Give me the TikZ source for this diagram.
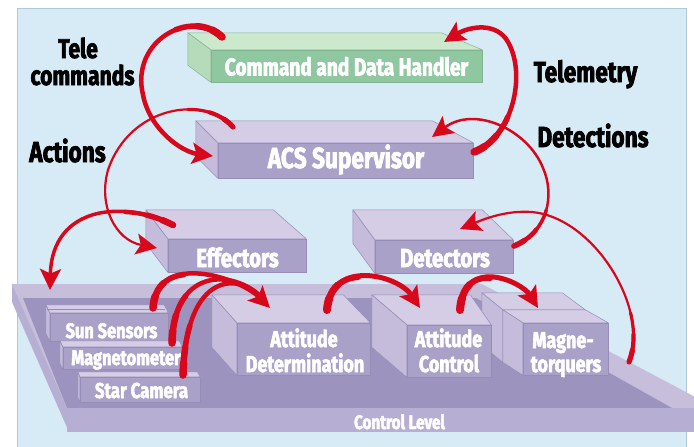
\documentclass[tikz,border=0pt]{standalone}
\usepackage{fontspec}
\newfontfamily\diafont{Fira Sans}[FakeStretch=0.78, BoldFeatures={FakeBold=2.5}]
\usetikzlibrary{arrows.meta,calc}

\definecolor{panelblue}{RGB}{215,235,246}
\definecolor{panelline}{RGB}{175,200,218}
\definecolor{pfront}{RGB}{170,161,201}
\definecolor{ptop}{RGB}{212,205,229}
\definecolor{pside}{RGB}{196,188,218}
\definecolor{pedge}{RGB}{150,141,182}
\definecolor{gfront}{RGB}{143,199,160}
\definecolor{gtop}{RGB}{204,232,205}
\definecolor{gside}{RGB}{181,219,187}
\definecolor{gedge}{RGB}{130,180,145}
\definecolor{floordark}{RGB}{156,147,191}
\definecolor{slabrim}{RGB}{198,190,219}
\definecolor{slabfront}{RGB}{182,174,211}
\definecolor{arcred}{RGB}{216,8,28}

\tikzset{
  purplefront/.style={fill=pfront, draw=pedge, line width=0.5pt, inner sep=0pt},
  purpletop/.style={fill=ptop, draw=pedge, line width=0.5pt, line join=round},
  purpleside/.style={fill=pside, draw=pedge, line width=0.5pt, line join=round},
  greenfront/.style={fill=gfront, draw=gedge, line width=0.5pt, inner sep=0pt},
  greentop/.style={fill=gtop, draw=gedge, line width=0.5pt, line join=round},
  greenside/.style={fill=gside, draw=gedge, line width=0.5pt, line join=round},
  lblsize/.style={font=\diafont\bfseries\fontsize{#1}{#1}\selectfont},
  whitelbl/.style={text=white, inner sep=0pt, anchor=base},
  blacklbl/.style={text=black, inner sep=0pt, anchor=base, lblsize=29},
  arcline/.style={draw=arcred, line cap=round, line join=round},
  headed/.style={-{Stealth[length=21pt,width=21pt,inset=4.5pt]}},
}

% top and left faces of a box whose front face is node #1
% #2 left depth shift, #3 right depth shift, #4 vertical depth, #5 colour family
\newcommand\boxfaces[5]{%
  \filldraw[#5top] (#1.north west) -- ++(-#2,-#4) -- ($(#1.north east)+(-#3,-#4)$) -- (#1.north east) -- cycle;
  \filldraw[#5side] (#1.north west) -- ++(-#2,-#4) -- ($(#1.south west)+(-#2,-#4)$) -- (#1.south west) -- cycle;
}

% red arc that thickens towards its tail
\newcommand\redarc[3][]{%
  \draw[arcline, line width=#2+3pt, dash pattern=on 12pt off 3000pt] #3;
  \draw[arcline, line width=#2+2pt, dash pattern=on 28pt off 3000pt] #3;
  \draw[arcline, line width=#2+1pt, dash pattern=on 50pt off 3000pt] #3;
  \draw[arcline, line width=#2, #1] #3;
}

\begin{document}
\begin{tikzpicture}[x=1pt,y=-1pt]
\useasboundingbox (0,0) rectangle (694,447);
\fill[white] (0,0) rectangle (694,447);
\filldraw[fill=panelblue, draw=panelline, line width=0.6pt] (17,8) rectangle (686,447);

% ---- upper boxes
\node[greenfront, minimum width=271pt, minimum height=32pt] (cdh) at (346.5,66) {};
\boxfaces{cdh}{23}{41}{17}{green}
\node[whitelbl, lblsize=24.5] (cdhlbl) at (346.5,75.5) {Command and Data Handler};

\node[purplefront, minimum width=255pt, minimum height=35pt] (acs) at (345.5,160.5) {};
\boxfaces{acs}{22}{41}{22}{purple}
\node[whitelbl, lblsize=29] (acslbl) at (346,168) {ACS Supervisor};

\node[purplefront, minimum width=138pt, minimum height=33pt] (eff) at (237,255.5) {};
\boxfaces{eff}{22}{33}{29}{purple}
\node[whitelbl, lblsize=26] (efflbl) at (237.5,267) {Effectors};

\node[purplefront, minimum width=138pt, minimum height=33pt] (det) at (444,256.5) {};
\boxfaces{det}{22}{31}{30}{purple}
\node[whitelbl, lblsize=26] (detlbl) at (445,267) {Detectors};

% ---- control level platform
\fill[slabrim] (12,284) -- (482,284) -- (716,408) -- (67,408) -- cycle;
\fill[floordark] (23,298) -- (476,298) -- (672,408) -- (67,408) -- cycle;
\fill[slabfront] (12,284) -- (12,302) -- (69,432) -- (67,408) -- cycle;
\node[fill=slabfront, inner sep=0pt, minimum width=627pt, minimum height=24pt] (ctrl) at (380.5,420) {};
\node[whitelbl, lblsize=19.5] (ctrllbl) at (399.5,429) {Control Level};

% ---- sensors
\node[purplefront, minimum width=118pt, minimum height=28pt] (sun) at (109,327) {};
\boxfaces{sun}{4}{4}{8}{purple}
\draw[pedge, line width=0.5pt] (47,309) -- (165,309);
\node[whitelbl, lblsize=21] (sunlbl) at (111.5,338) {Sun Sensors};

\node[purplefront, minimum width=119pt, minimum height=22pt] (mag) at (122.5,358) {};
\boxfaces{mag}{3}{3}{6}{purple}
\node[whitelbl, lblsize=21] (maglbl) at (126,365) {Magnetometer};

\node[purplefront, minimum width=120pt, minimum height=25pt] (star) at (140,389.5) {};
\boxfaces{star}{2}{3}{5}{purple}
\node[whitelbl, lblsize=21.5] (starlbl) at (141.5,398) {Star Camera};

% ---- control chain
\node[purplefront, minimum width=133pt, minimum height=52pt] (adet) at (303.5,349) {};
\boxfaces{adet}{25}{27}{28}{purple}
\node[whitelbl, lblsize=23] (adetlbl1) at (304,347) {Attitude};
\node[whitelbl, lblsize=23] (adetlbl2) at (305,372) {Determination};

\node[purplefront, minimum width=82pt, minimum height=52pt] (mqback) at (544,336) {};
\boxfaces{mqback}{21}{23}{17}{purple}
\node[purplefront, minimum width=85pt, minimum height=52pt] (mq) at (565.5,349) {};
\boxfaces{mq}{20}{23}{13}{purple}
\node[whitelbl, lblsize=23] (mqlbl1) at (563,348) {Magne-};
\node[whitelbl, lblsize=23] (mqlbl2) at (566,372) {torquers};

\node[purplefront, minimum width=84pt, minimum height=52pt] (actl) at (449,351) {};
\boxfaces{actl}{35}{21}{30}{purple}
\node[whitelbl, lblsize=23] (actllbl1) at (448.5,347) {Attitude};
\node[whitelbl, lblsize=23] (actllbl2) at (449,372) {Control};

% ---- side captions
\node[blacklbl, lblsize=27] (tele) at (78,58) {Tele};
\node[blacklbl, lblsize=27] (cmds) at (82.5,85) {commands};
\node[blacklbl] (actions) at (67.5,162) {Actions};
\node[blacklbl] (telemetry) at (585.5,82) {Telemetry};
\node[blacklbl] (detections) at (593,147) {Detections};

% ---- arc end points
\coordinate (tcS) at (222,37);   \coordinate (tcE) at (213,156);
\coordinate (tmS) at (474,152);  \coordinate (tmE) at (444,42);
\coordinate (acS) at (233,127);  \coordinate (acE) at (157,248);
\coordinate (efS) at (173,225);  \coordinate (efE) at (50,290);
\coordinate (dtS) at (514,246);  \coordinate (dtE) at (432,137);
\coordinate (s1S) at (153,308);  \coordinate (s2S) at (172,343);
\coordinate (s3S) at (183,375);  \coordinate (adE) at (270,308);
\coordinate (adS) at (327,310);  \coordinate (acE2) at (420,308);
\coordinate (ctS) at (460,310);  \coordinate (mqE) at (538,308);
\coordinate (mqS) at (629,362);  \coordinate (dtE2) at (460,229);

% ---- red arcs
\redarc[headed]{4.5pt}{(tcS) .. controls (192,8) and (130,40) .. (143,95) .. controls (150,130) and (182,152) .. (tcE)}
\redarc[headed]{4.5pt}{(tmS) .. controls (512,138) and (527,75) .. (508,42) .. controls (497,22) and (470,26) .. (tmE)}
\redarc[headed]{2.2pt}{(acS) .. controls (205,95) and (130,105) .. (108,170) .. controls (98,205) and (115,240) .. (acE)}
\redarc[headed]{3.5pt}{(efS) .. controls (125,200) and (52,205) .. (efE)}
\redarc[headed]{2.5pt}{(dtS) .. controls (548,232) and (555,195) .. (543,168) .. controls (528,130) and (475,105) .. (dtE)}
\redarc[shorten >=12pt]{4.5pt}{(s3S) .. controls (186,270) and (240,272) .. (adE)}
\redarc[shorten >=12pt]{4.5pt}{(s2S) .. controls (174,262) and (240,272) .. (adE)}
\redarc[headed]{4.5pt}{(s1S) .. controls (157,250) and (240,278) .. (adE)}
\redarc[headed]{5pt}{(adS) .. controls (331,258) and (398,275) .. (acE2)}
\redarc[headed]{5pt}{(ctS) .. controls (464,255) and (522,282) .. (mqE)}
\redarc[headed]{2.2pt}{(mqS) .. controls (650,310) and (595,218) .. (532,212) .. controls (505,210) and (482,220) .. (dtE2)}
\end{tikzpicture}
\end{document}
